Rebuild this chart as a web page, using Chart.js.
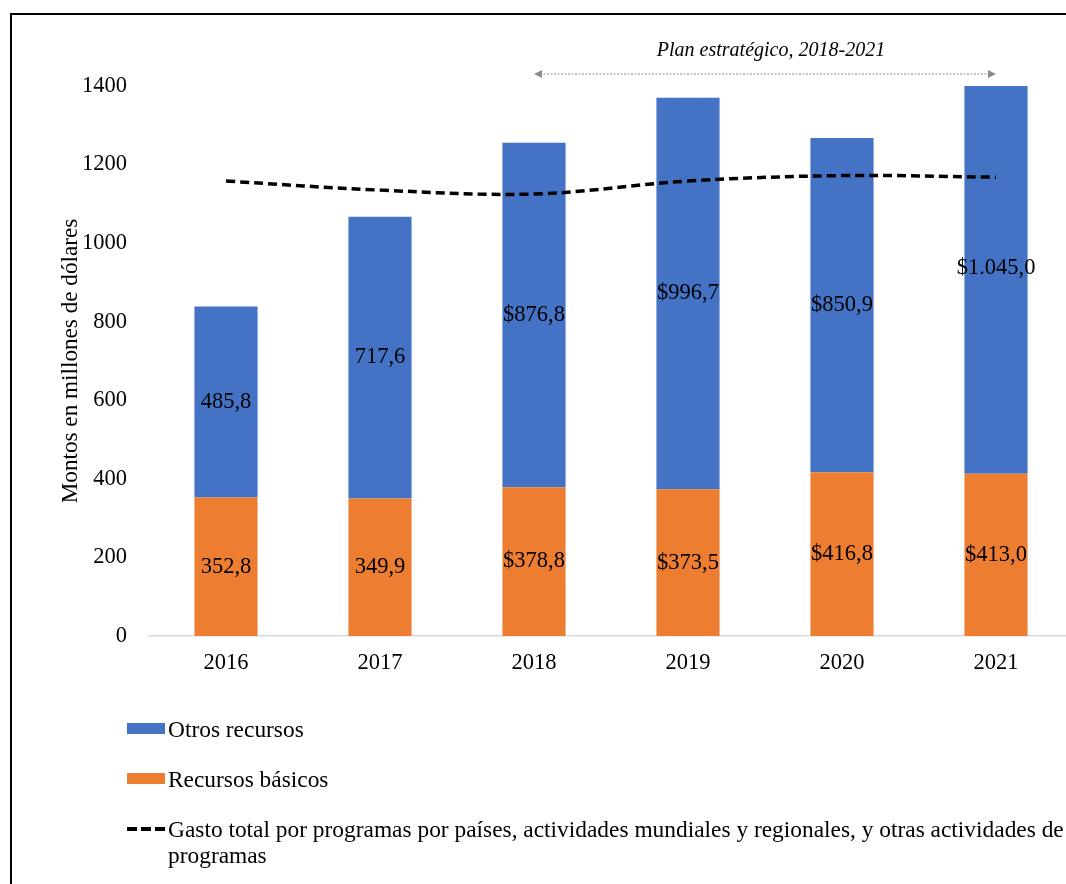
<!DOCTYPE html>
<html>
<head>
<meta charset="utf-8">
<script src="https://cdn.jsdelivr.net/npm/chart.js@4/dist/chart.umd.min.js"></script>
<style>
  html, body { margin: 0; padding: 0; background: #fff; width: 1066px; height: 884px; overflow: hidden; }
  #wrap { position: relative; width: 1066px; height: 884px; overflow: hidden; }
  #c { position: absolute; left: 0; top: 0; }
  #frame { position: absolute; left: 10px; top: 13px; width: 1100px; height: 900px; border-top: 2px solid #000; border-left: 2px solid #000; box-sizing: border-box; pointer-events: none; }
  .lg { position: absolute; left: 0; font-family: "Liberation Serif", "Times New Roman", serif; font-size: 23.4px; line-height: 26px; color: #000; }
  .lg .txt { position: absolute; left: 168px; white-space: nowrap; }
  .box { position: absolute; left: 127px; width: 38px; height: 11px; }
  .dash { position: absolute; left: 127px; width: 38px; height: 4px;
          background: repeating-linear-gradient(90deg, #000 0 10px, transparent 10px 14px); }
</style>
</head>
<body>
<div id="wrap">
  <canvas id="c" width="1090" height="884"></canvas>
  <div id="frame"></div>
  <div class="lg" style="top:716px;"><div class="box" style="top:7px;background:#4472C4;"></div><div class="txt">Otros recursos</div></div>
  <div class="lg" style="top:766px;"><div class="box" style="top:7px;background:#ED7D31;"></div><div class="txt">Recursos básicos</div></div>
  <div class="lg" style="top:816px;"><div class="dash" style="top:11px;"></div><div class="txt">Gasto total por programas por países, actividades mundiales y regionales, y otras actividades de<br>programas</div></div>
</div>
<script>
const years = ['2016', '2017', '2018', '2019', '2020', '2021'];
const recursosBasicos = [352.8, 349.9, 378.8, 373.5, 416.8, 413.0];
const otrosRecursos = [485.8, 717.6, 876.8, 996.7, 850.9, 1045.0];
const gastoTotal = [1158, 1135, 1125, 1158, 1172, 1168];
const labelPrefix = ['', '', '$', '$', '$', '$'];
const yTicks = [0, 200, 400, 600, 800, 1000, 1200, 1400];
const planLabel = 'Plan estratégico, 2018-2021';
const planStart = '2018';
const planEnd = '2021';

const SERIF = '"Liberation Serif", "Times New Roman", serif';

function fmt(v, prefix) {
  const parts = v.toFixed(1).split('.');
  parts[0] = parts[0].replace(/\B(?=(\d{3})+(?!\d))/g, '.');
  return prefix + parts[0] + ',' + parts[1];
}

const segLabels = {
  id: 'segLabels',
  afterDatasetsDraw(chart) {
    const { ctx, scales: { x, y } } = chart;
    ctx.save();
    ctx.font = '22.5px ' + SERIF;
    ctx.fillStyle = '#000';
    ctx.textAlign = 'center';
    ctx.textBaseline = 'middle';
    years.forEach((yr, i) => {
      const px = x.getPixelForValue(i);
      const b = recursosBasicos[i], o = otrosRecursos[i];
      ctx.fillText(fmt(b, labelPrefix[i]), px, y.getPixelForValue(b / 2));
      ctx.fillText(fmt(o, labelPrefix[i]), px, y.getPixelForValue(b + o / 2));
    });
    ctx.restore();
  }
};

const planArrow = {
  id: 'planArrow',
  afterDraw(chart) {
    const { ctx, scales: { x, y } } = chart;
    const x1 = x.getPixelForValue(years.indexOf(planStart));
    const x2 = x.getPixelForValue(years.indexOf(planEnd));
    const ay = y.top - 12;
    ctx.save();
    ctx.strokeStyle = '#8c8c8c';
    ctx.fillStyle = '#8c8c8c';
    ctx.lineWidth = 1.2;
    ctx.setLineDash([2, 1.5]);
    ctx.beginPath();
    ctx.moveTo(x1 + 6, ay);
    ctx.lineTo(x2 - 6, ay);
    ctx.stroke();
    ctx.setLineDash([]);
    ctx.beginPath();
    ctx.moveTo(x1, ay); ctx.lineTo(x1 + 8, ay - 4); ctx.lineTo(x1 + 8, ay + 4); ctx.closePath();
    ctx.fill();
    ctx.beginPath();
    ctx.moveTo(x2, ay); ctx.lineTo(x2 - 8, ay - 4); ctx.lineTo(x2 - 8, ay + 4); ctx.closePath();
    ctx.fill();
    ctx.font = 'italic 20px ' + SERIF;
    ctx.fillStyle = '#000';
    ctx.textAlign = 'center';
    ctx.textBaseline = 'middle';
    ctx.fillText(planLabel, (x1 + x2) / 2 + 6, ay - 23);
    ctx.restore();
  }
};

new Chart(document.getElementById('c'), {
  type: 'bar',
  data: {
    labels: years,
    datasets: [
      {
        type: 'line',
        label: 'Gasto total por programas por países, actividades mundiales y regionales, y otras actividades de programas',
        data: gastoTotal,
        borderColor: '#000',
        borderWidth: 3.5,
        borderDash: [9, 5],
        borderCapStyle: 'butt',
        tension: 0.35,
        pointRadius: 0,
        fill: false,
        stack: 'gasto',
        order: 0
      },
      {
        label: 'Recursos básicos',
        data: recursosBasicos,
        backgroundColor: '#ED7D31',
        stack: 'recursos',
        order: 1,
        clip: 0
      },
      {
        label: 'Otros recursos',
        data: otrosRecursos,
        backgroundColor: '#4472C4',
        stack: 'recursos',
        order: 1,
        clip: 0
      }
    ]
  },
  options: {
    responsive: false,
    animation: false,
    events: [],
    layout: { padding: { left: 53, top: 86, right: 17, bottom: 198 } },
    datasets: { bar: { barPercentage: 0.41, categoryPercentage: 1.0 } },
    plugins: {
      legend: { display: false },
      tooltip: { enabled: false }
    },
    scales: {
      x: {
        stacked: true,
        grid: { display: false, drawTicks: false },
        border: { display: true, color: '#d9d9d9', width: 1.5 },
        ticks: { color: '#000', font: { family: SERIF, size: 22.5 }, padding: 14 },
        afterFit(s) { s.height = 50; }
      },
      y: {
        stacked: true,
        min: 0,
        max: 1400,
        afterBuildTicks(s) { s.ticks = yTicks.map(v => ({ value: v })); },
        grid: { display: false, drawTicks: false },
        border: { display: false },
        ticks: { color: '#000', font: { family: SERIF, size: 22.5 }, padding: 22, callback: v => String(v) },
        title: {
          display: true,
          text: 'Montos en millones de dólares',
          color: '#000',
          font: { family: SERIF, size: 23.2 },
          padding: { top: 4, bottom: 4 }
        },
        afterFit(s) { s.width = 96; }
      }
    }
  },
  plugins: [segLabels, planArrow]
});
</script>
</body>
</html>
